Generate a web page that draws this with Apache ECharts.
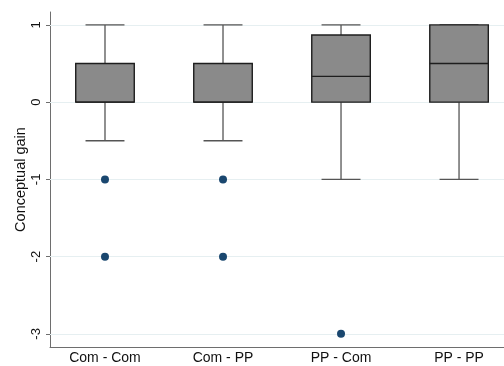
<!DOCTYPE html>
<html>
<head>
<meta charset="utf-8">
<script src="https://cdn.jsdelivr.net/npm/echarts@6/dist/echarts.min.js"></script>
<style>html,body{margin:0;padding:0;background:#fff}#c{width:504px;height:366px}</style>
</head>
<body>
<div id="c"></div>
<script>
// ---- data ----
const categories = ['Com - Com', 'Com - PP', 'PP - Com', 'PP - PP'];
const lowerWhisker = [-0.5, -0.5, -1, -1];
const q1 = [0, 0, 0, 0];
const median = [0, 0, 0.333, 0.5];
const q3 = [0.5, 0.5, 0.87, 1];
const upperWhisker = [1, 1, 1, 1];
const outlierGroup = [0, 0, 1, 1, 2];
const outlierValues = [-1, -2, -1, -2, -3];
const yTicks = [-3, -2, -1, 0, 1];

const boxData = categories.map((c, i) => [i + 1, lowerWhisker[i], q1[i], median[i], q3[i], upperWhisker[i]]);
const outlierData = outlierGroup.map((g, i) => [g + 1, outlierValues[i]]);

const font = 'Liberation Sans, Arial, Helvetica, sans-serif';
const chart = echarts.init(document.getElementById('c'), null, {renderer: 'canvas'});
chart.setOption({
  animation: false,
  backgroundColor: '#ffffff',
  grid: {left: 50, right: 0, top: 12, bottom: 19, containLabel: false, outerBoundsMode: 'none'},
  xAxis: {
    type: 'value', min: 0.534, max: 4.381,
    axisLine: {show: true, onZero: false, lineStyle: {color: '#6e6e6e', width: 1}},
    axisTick: {show: false},
    splitLine: {show: false},
    axisLabel: {
      customValues: [1, 2, 3, 4],
      formatter: v => categories[Math.round(v) - 1] || '',
      color: '#111', fontFamily: font, fontSize: 14, margin: 4
    }
  },
  yAxis: {
    type: 'value', min: -3.17, max: 1.167,
    name: 'Conceptual gain', nameLocation: 'middle', nameGap: 22, nameRotate: 90,
    nameMoveOverlap: false,
    nameTextStyle: {color: '#111', fontFamily: font, fontSize: 14.5},
    axisLine: {show: true, onZero: false, lineStyle: {color: '#6e6e6e', width: 1}},
    axisTick: {show: true, customValues: yTicks, length: 4, lineStyle: {color: '#6e6e6e'}},
    splitLine: {show: false},
    axisLabel: {
      customValues: yTicks, rotate: 90, color: '#111', fontFamily: font, fontSize: 13, margin: 7
    }
  },
  series: [
    {
      type: 'custom',
      z: 3,
      data: boxData,
      encode: {x: 0, y: [1, 2, 3, 4, 5]},
      renderItem: function (params, api) {
        const x = api.value(0);
        const pLow = api.coord([x, api.value(1)]);
        const pQ1 = api.coord([x, api.value(2)]);
        const pMed = api.coord([x, api.value(3)]);
        const pQ3 = api.coord([x, api.value(4)]);
        const pHigh = api.coord([x, api.value(5)]);
        const bw = api.size([1, 0])[0];
        const hw = bw * 0.248, cw = bw * 0.165;
        const cx = pLow[0];
        const wStyle = {stroke: '#555555', lineWidth: 1.3, fill: null};
        const bStyle = {stroke: '#1e1e1e', lineWidth: 1.4};
        return {
          type: 'group',
          children: [
            {type: 'line', shape: {x1: cx, y1: pQ3[1], x2: cx, y2: pHigh[1]}, style: wStyle},
            {type: 'line', shape: {x1: cx, y1: pQ1[1], x2: cx, y2: pLow[1]}, style: wStyle},
            {type: 'line', shape: {x1: cx - cw, y1: pHigh[1], x2: cx + cw, y2: pHigh[1]}, style: wStyle},
            {type: 'line', shape: {x1: cx - cw, y1: pLow[1], x2: cx + cw, y2: pLow[1]}, style: wStyle},
            {type: 'rect', shape: {x: cx - hw, y: pQ3[1], width: 2 * hw, height: pQ1[1] - pQ3[1]},
              style: {fill: '#8a8a8a', stroke: '#1e1e1e', lineWidth: 1.4}},
            {type: 'line', shape: {x1: cx - hw, y1: pMed[1], x2: cx + hw, y2: pMed[1]}, style: bStyle}
          ]
        };
      }
    },
    {
      type: 'scatter',
      z: 4,
      data: outlierData,
      symbol: 'circle',
      symbolSize: 8,
      itemStyle: {color: '#1a476f', opacity: 1},
      markLine: {
        z: 1,
        silent: true,
        symbol: 'none',
        label: {show: false},
        lineStyle: {color: '#e6eff1', width: 1, type: 'solid'},
        data: yTicks.map(v => ({yAxis: v}))
      }
    }
  ]
});
</script>
</body>
</html>
